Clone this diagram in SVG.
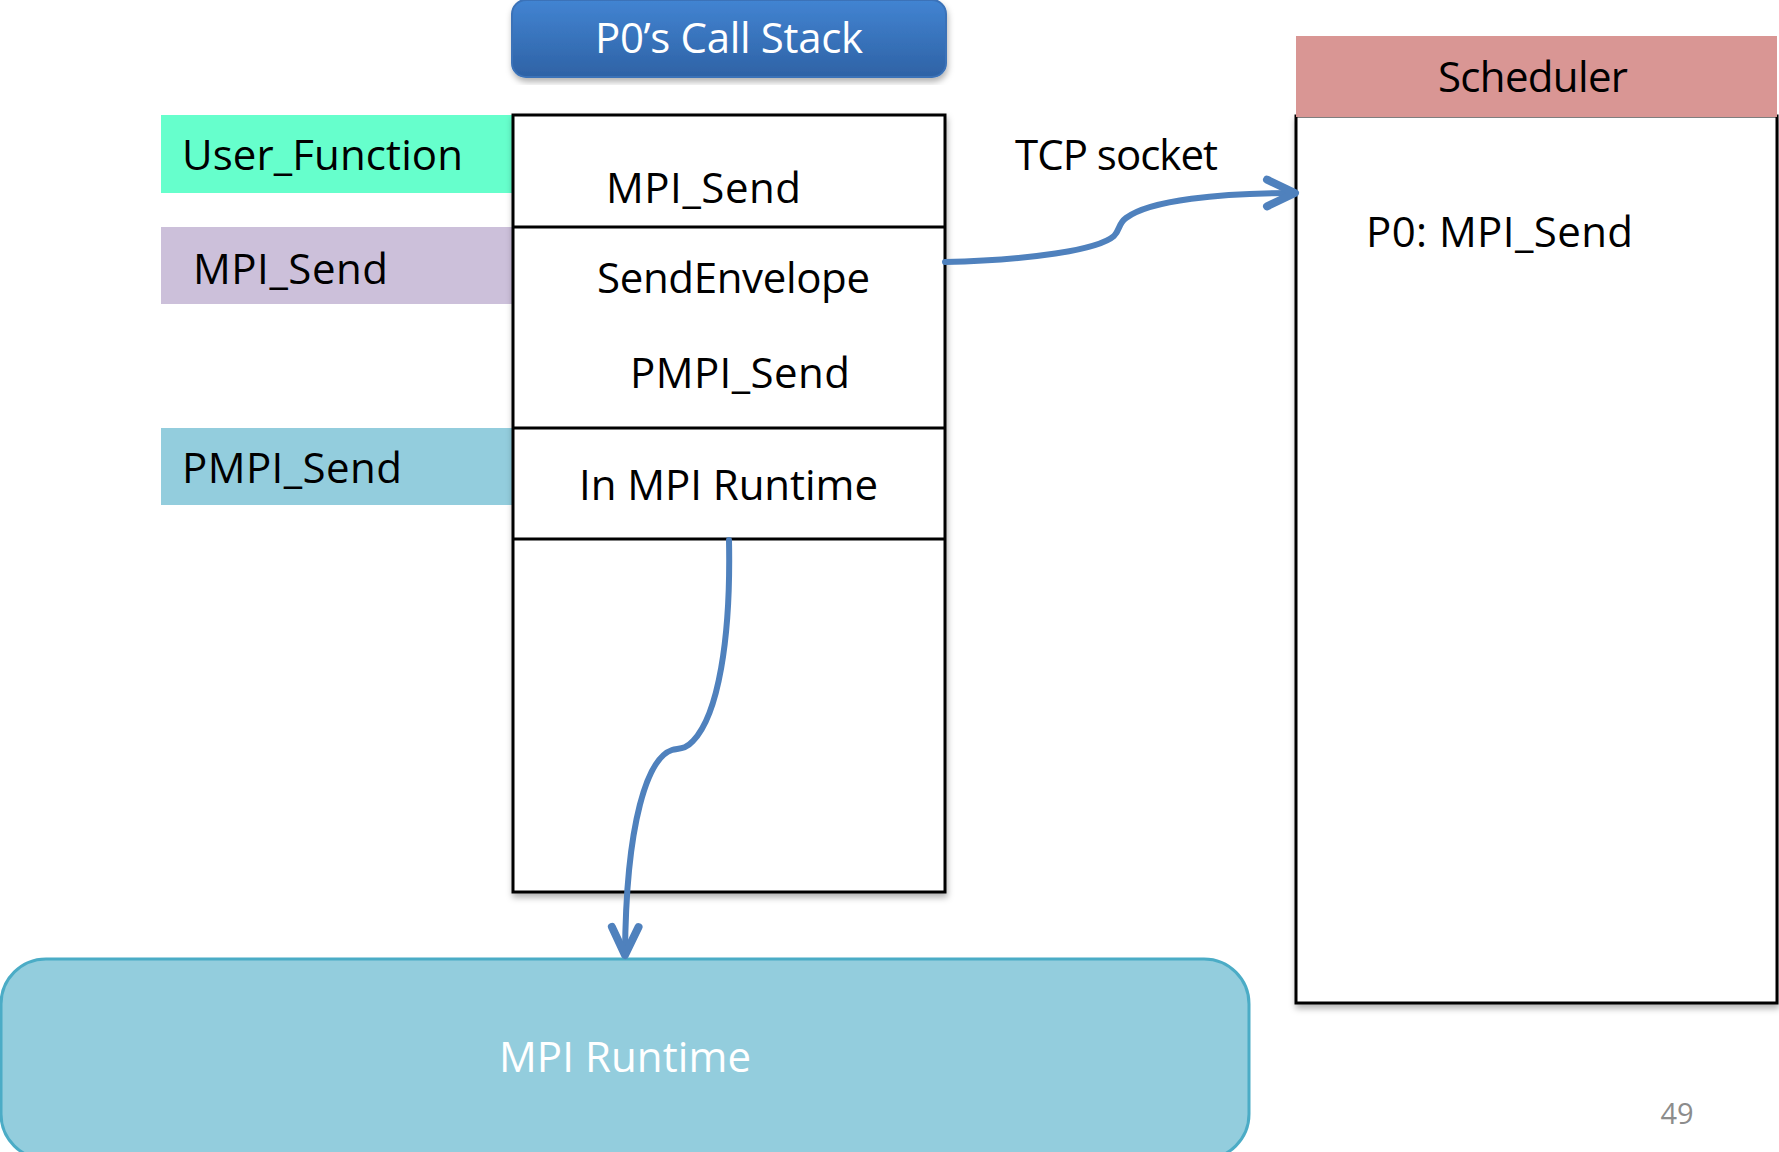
<svg xmlns="http://www.w3.org/2000/svg" width="1779" height="1152" viewBox="0 0 1779 1152">
<style>
.t{font-family:"Open Sans","Liberation Sans",sans-serif;font-size:42px;fill:#000}
.w{fill:#fff}
.box{fill:#fff;stroke:#000;stroke-width:3}
.div{stroke:#000;stroke-width:3}
.conn{fill:none;stroke:#4f81bd;stroke-width:6;stroke-linecap:round}
</style>
<defs>
<linearGradient id="hg" x1="0" y1="0" x2="0" y2="1">
<stop offset="0" stop-color="#4284d2"/>
<stop offset="1" stop-color="#2e62a5"/>
</linearGradient>
<filter id="sh" x="-5%" y="-5%" width="110%" height="115%">
<feDropShadow dx="1" dy="4" stdDeviation="3" flood-color="#000" flood-opacity="0.3"/>
</filter>
<marker id="ah" markerUnits="userSpaceOnUse" markerWidth="40" markerHeight="40" refX="0" refY="0" viewBox="-25 -15 30 30" orient="auto" overflow="visible">
<path d="M-21,-10 L0,0 L-21,10" fill="none" stroke="#4f81bd" stroke-width="6" stroke-linecap="round" stroke-linejoin="round"/>
</marker>
</defs>
<rect width="1779" height="1152" fill="#fff"/>

<g id="header">
<rect x="512" y="0" width="434" height="77" rx="14" fill="url(#hg)" stroke="#3a72b8" stroke-width="2" filter="url(#sh)"/>
<text class="t w" x="729" y="53" text-anchor="middle" textLength="268">P0’s Call Stack</text>
</g>

<g id="label-user-function">
<rect x="161" y="115" width="352" height="78" fill="#66ffcc"/>
<text class="t" x="182" y="170" textLength="281">User_Function</text>
</g>
<g id="label-mpi-send">
<rect x="161" y="227" width="352" height="77" fill="#ccc0da"/>
<text class="t" x="193" y="284" textLength="195">MPI_Send</text>
</g>
<g id="label-pmpi-send">
<rect x="161" y="428" width="352" height="77" fill="#93cddd"/>
<text class="t" x="182" y="483" textLength="220">PMPI_Send</text>
</g>

<g id="call-stack">
<rect class="box" x="513" y="115" width="432" height="777" filter="url(#sh)"/>
<line class="div" x1="513" y1="227" x2="945" y2="227"/>
<line class="div" x1="513" y1="428" x2="945" y2="428"/>
<line class="div" x1="513" y1="539" x2="945" y2="539"/>
<text class="t" x="606" y="203" textLength="195">MPI_Send</text>
<text class="t" x="597" y="293" textLength="273">SendEnvelope</text>
<text class="t" x="630" y="388" textLength="220">PMPI_Send</text>
<text class="t" x="579" y="500" textLength="299">In MPI Runtime</text>
</g>

<g id="scheduler">
<rect class="box" x="1296" y="116" width="481" height="887" filter="url(#sh)"/>
<rect x="1296" y="36" width="481" height="81" fill="#d99694"/>
<text class="t" x="1533" y="92" text-anchor="middle" textLength="190">Scheduler</text>
<text class="t" x="1366" y="247" textLength="267">P0: MPI_Send</text>
</g>

<g id="mpi-runtime">
<rect x="1" y="959" width="1248" height="200" rx="45" fill="#93cddd" stroke="#4bacc6" stroke-width="3"/>
<text class="t w" x="625" y="1072" text-anchor="middle" textLength="252">MPI Runtime</text>
</g>

<text id="tcp-label" class="t" x="1015" y="170" textLength="203">TCP socket</text>
<text id="page-number" x="1677" y="1124" text-anchor="middle" font-family="Open Sans, Liberation Sans, sans-serif" font-size="29" fill="#8c8c8c">49</text>

<g id="connectors">
<path class="conn" d="M945,262 C1030,260 1098,250 1114,236 C1120,230 1118,224 1126,218 C1150,200 1220,193 1295,193" marker-end="url(#ah)"/>
<path class="conn" d="M729,540 C731,640 718,715 693,741 C685,750 678,748 672,750 C648,758 626,820 625,955" marker-end="url(#ah)"/>
</g>
</svg>
